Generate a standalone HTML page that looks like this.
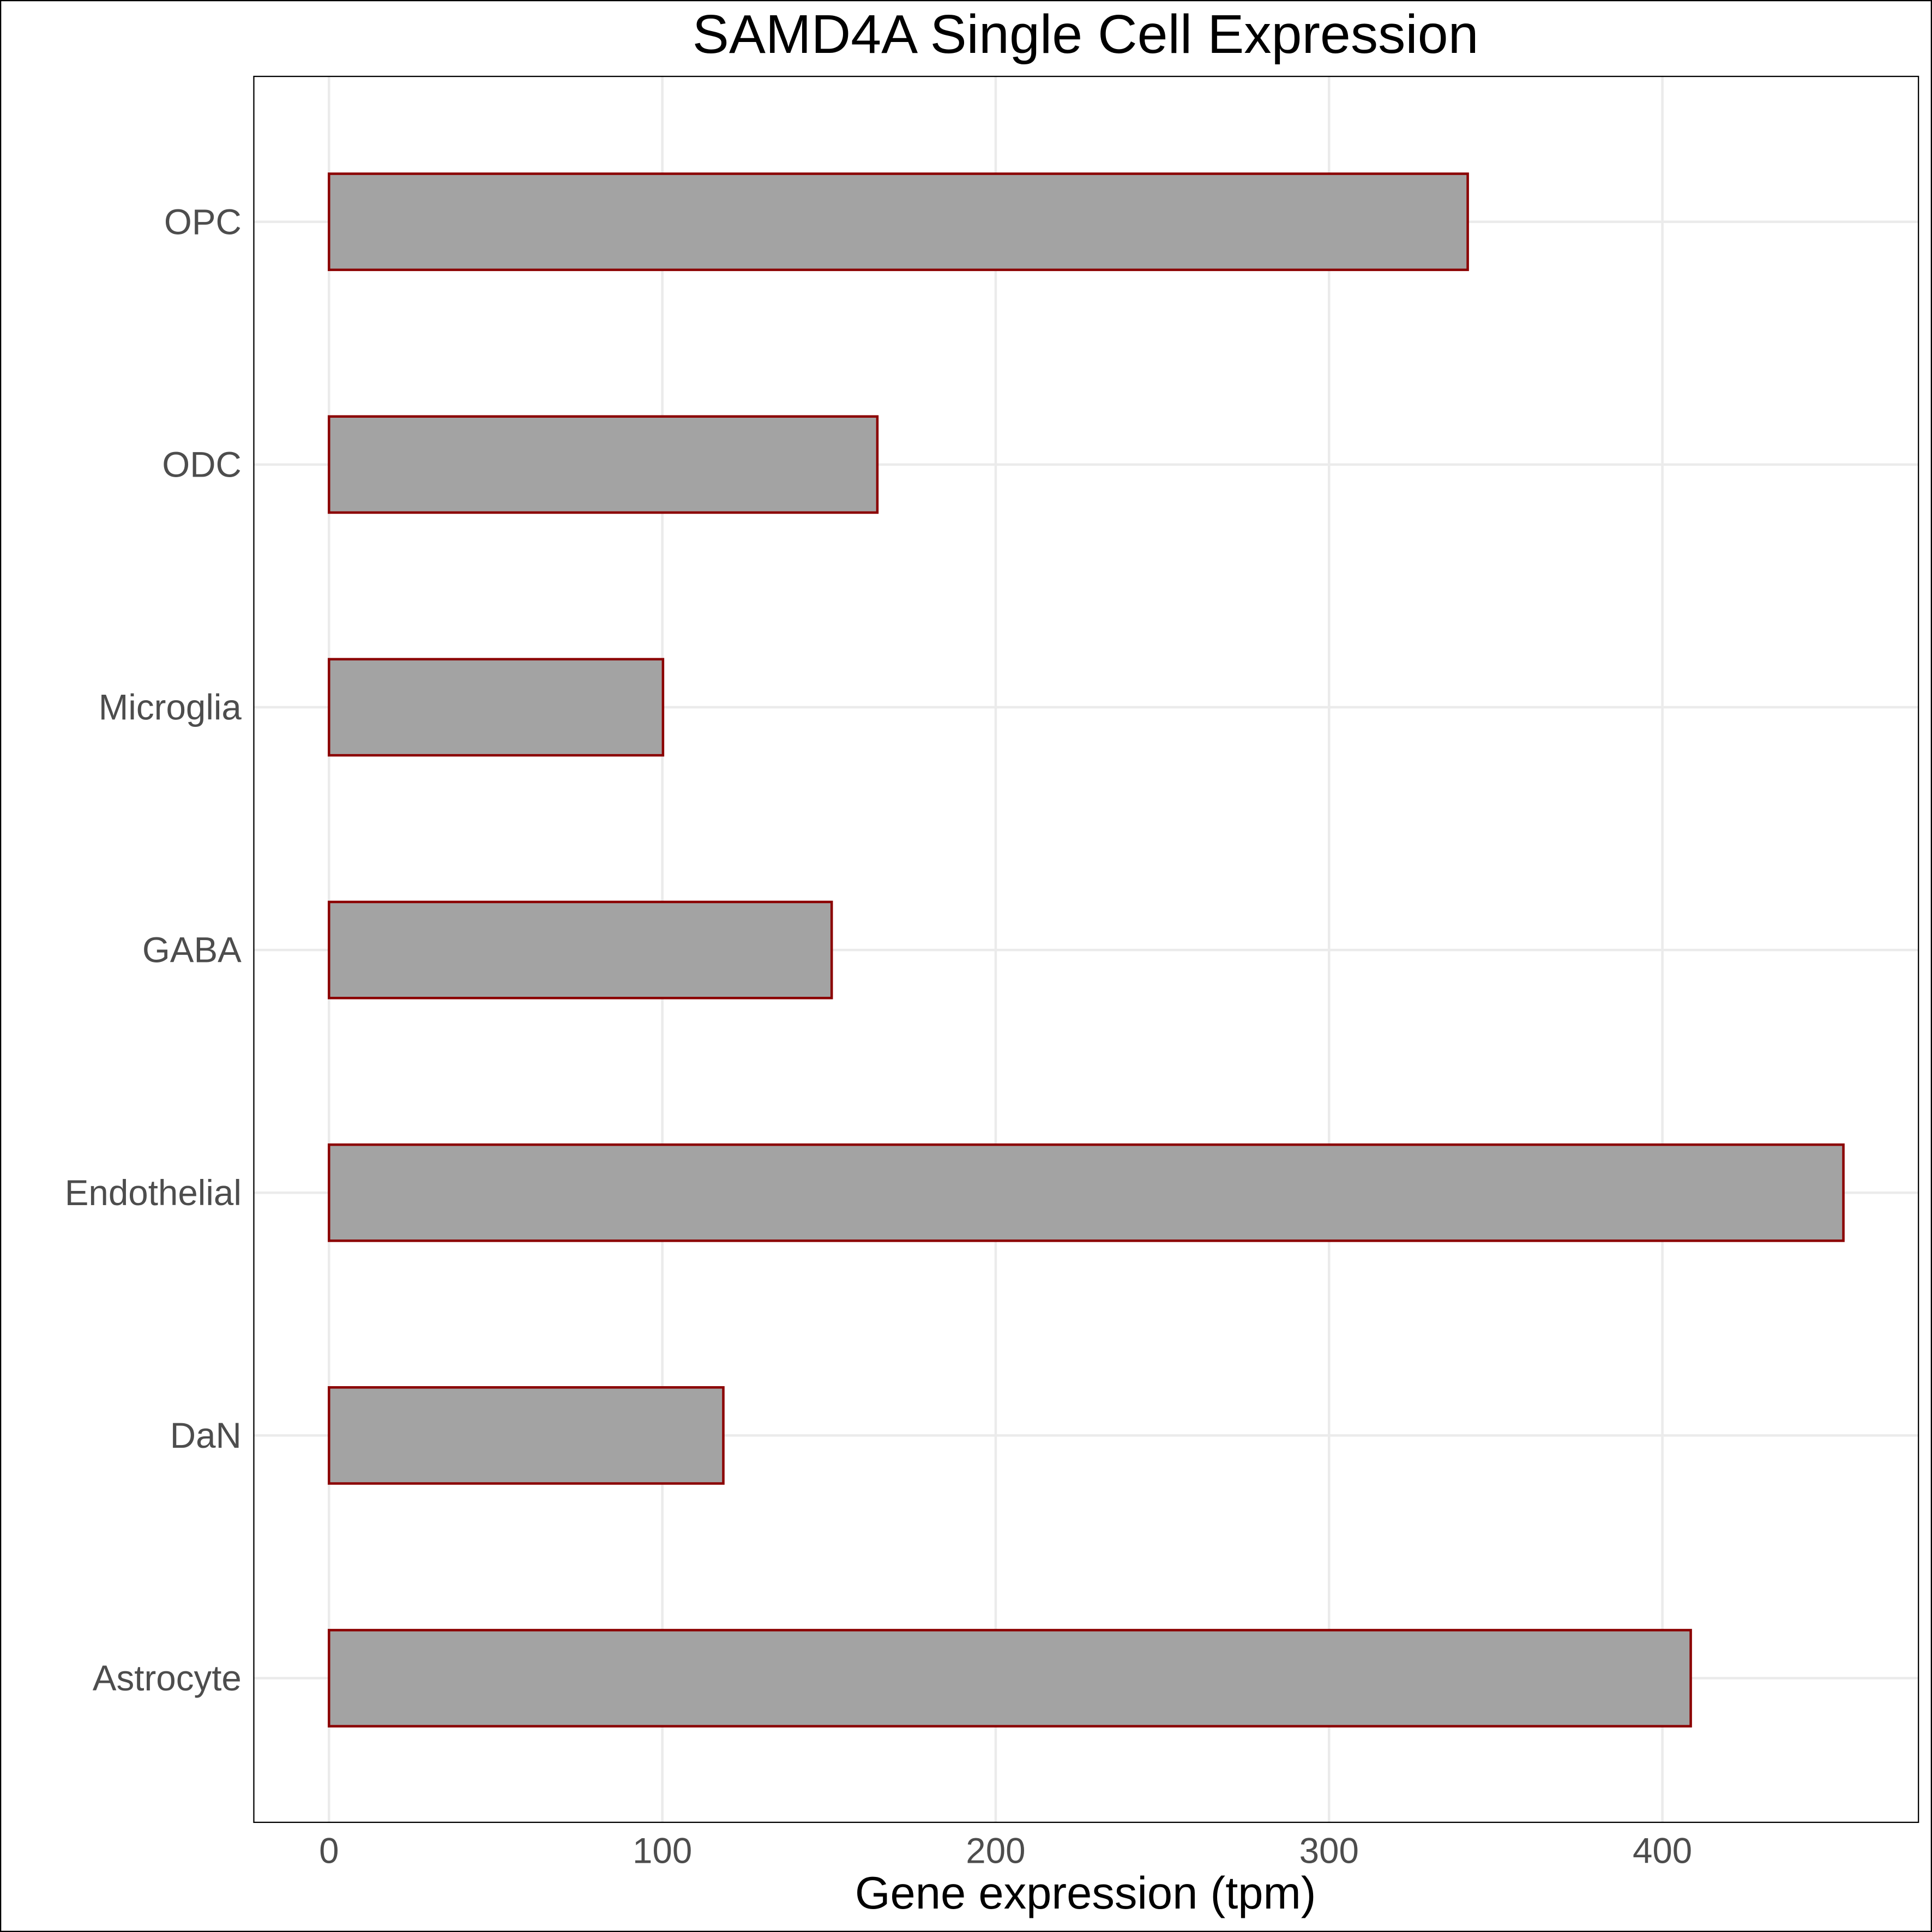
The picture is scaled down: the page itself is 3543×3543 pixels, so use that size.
<!DOCTYPE html>
<html><head><meta charset="utf-8"><style>
html,body{margin:0;padding:0;background:#fff;}
svg{display:block;font-family:"Liberation Sans",sans-serif;}
</style></head><body>
<svg id="chart" width="3543" height="3543" viewBox="0 0 1568 1568" xmlns="http://www.w3.org/2000/svg">
<rect x="0.5" y="0.5" width="1567" height="1567" fill="#fff" stroke="#000" stroke-width="1"/>
<text x="881" y="43" font-size="44.5" text-anchor="middle" fill="#000">SAMD4A Single Cell Expression</text>
<g id="grid"></g>
<g id="bars"></g>
<g id="ylabels"></g>
<g id="xlabels"></g>
<rect x="206" y="62" width="1351" height="1417" fill="none" stroke="#000" stroke-width="1"/>
<text x="881" y="1549" font-size="36.8" text-anchor="middle" fill="#000">Gene expression (tpm)</text>
</svg>
<script>
const categories = ["OPC","ODC","Microglia","GABA","Endothelial","DaN","Astrocyte"];
const values = [341.6, 164.5, 100.2, 150.8, 454.3, 118.3, 408.5];
const xTicks = [0,100,200,300,400];
const NS="http://www.w3.org/2000/svg";
const pLeft=206,pRight=1557,pTop=62,pBottom=1479;
function xs(v){return 267+v*2.7055;}
function ys(i){return 180+i*197;}
const bandH=78;
function mk(tag,attrs,parent){const e=document.createElementNS(NS,tag);for(const k in attrs)e.setAttribute(k,attrs[k]);parent.appendChild(e);return e;}
const grid=document.getElementById('grid'),bars=document.getElementById('bars'),yl=document.getElementById('ylabels'),xl=document.getElementById('xlabels');
xTicks.forEach(t=>{
  const l=mk('line',{x1:xs(t),x2:xs(t),y1:pTop,y2:pBottom,stroke:'#ebebeb','stroke-width':2},grid);
  
  
  const tx=mk('text',{x:xs(t),y:pBottom+33,'font-size':29,'text-anchor':'middle',fill:'#4d4d4d'},xl);
  tx.textContent=t;
  
  
});
categories.forEach((c,i)=>{
  const l=mk('line',{x1:pLeft,x2:pRight,y1:ys(i),y2:ys(i),stroke:'#ebebeb','stroke-width':2},grid);
  
  
  const r=mk('rect',{x:xs(0),y:ys(i)-bandH/2,width:xs(values[i])-xs(0),height:bandH,fill:'#a3a3a3',stroke:'#8b0000','stroke-width':2},bars);
  
  
  const tx=mk('text',{x:pLeft-10,y:ys(i)+10,'font-size':29,'text-anchor':'end',fill:'#4d4d4d'},yl);
  tx.textContent=c;
  
  
});
</script>
</body></html>
